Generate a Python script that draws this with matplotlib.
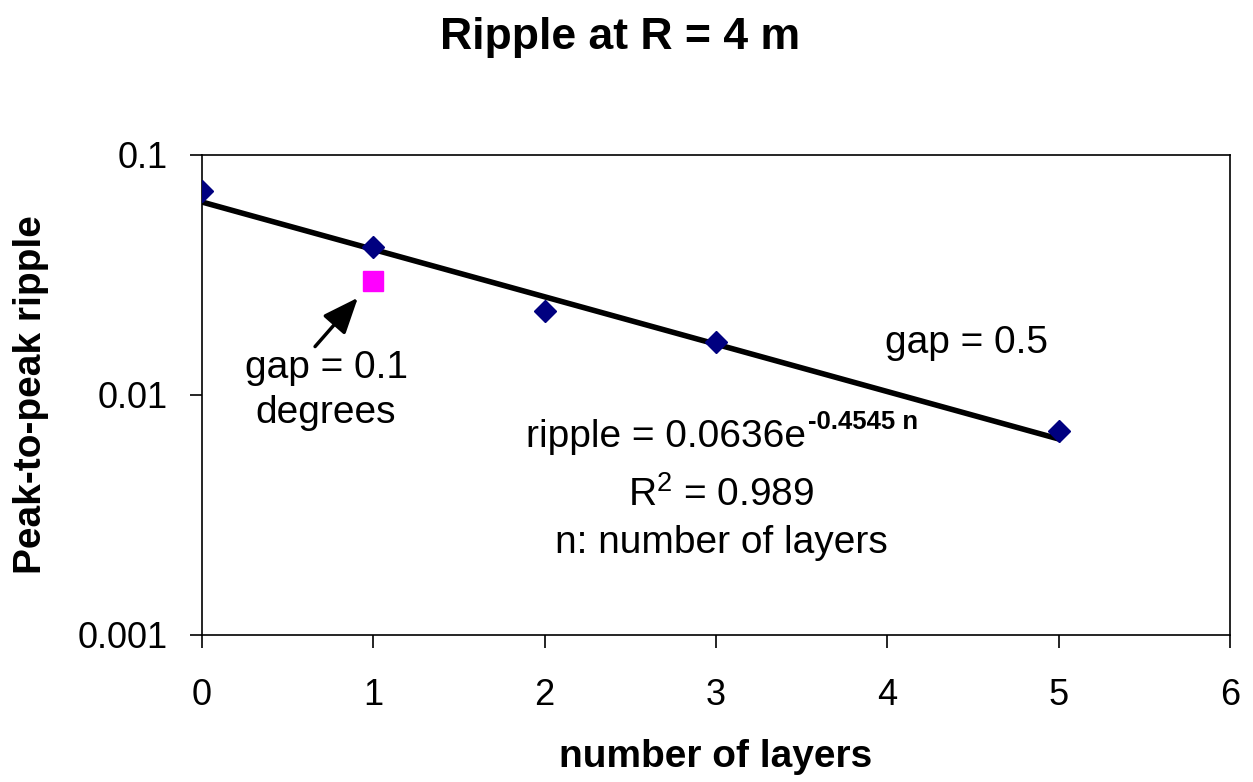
import numpy as np
import matplotlib.pyplot as plt

plt.rcParams['font.family'] = ['Liberation Sans', 'DejaVu Sans']
plt.rcParams['mathtext.fontset'] = 'custom'
plt.rcParams['mathtext.rm'] = 'Liberation Sans'
plt.rcParams['mathtext.it'] = 'Liberation Sans'
plt.rcParams['mathtext.bf'] = 'Liberation Sans:bold'

# measured peak-to-peak ripple vs number of layers (gap = 0.5)
layers = [0, 1, 2, 3, 5]
ripple = [0.0705, 0.0412, 0.0224, 0.0166, 0.0071]

# single point with gap = 0.1 degrees
layers_gap01 = [1]
ripple_gap01 = [0.0298]

# exponential trendline: ripple = a * exp(b * n)
fit_a = 0.0636
fit_b = -0.4545
fit_r2 = 0.989

fig = plt.figure(figsize=(12.53, 7.82), dpi=100)
ax = fig.add_axes([0.1612, 0.188, 0.8205, 0.614])

n_fit = np.linspace(0, 5, 100)
ax.plot(n_fit, fit_a * np.exp(fit_b * n_fit), color='black', lw=4, zorder=2)
ax.plot(layers, ripple, linestyle='none', marker='D', ms=11,
        color='#000080', zorder=3)
ax.plot(layers_gap01, ripple_gap01, linestyle='none', marker='s', ms=14,
        color='#ff00ff', zorder=3)

ax.set_yscale('log')
ax.set_xlim(0, 6)
ax.set_ylim(0.001, 0.1)
ax.set_xticks(range(7))
ax.set_yticks([0.001, 0.01, 0.1])
ax.set_yticklabels(['0.001', '0.01', '0.1'])
ax.yaxis.set_minor_locator(plt.NullLocator())
ax.tick_params(axis='both', direction='out', length=9, width=1.2,
               labelsize=26)
ax.tick_params(axis='y', pad=16)
ax.tick_params(axis='x', pad=22)
for sp in ax.spines.values():
    sp.set_linewidth(1.2)

ax.set_xlabel('number of layers', fontsize=28, fontweight='bold')
ax.xaxis.set_label_coords(0.5, -0.217)
ax.set_ylabel('Peak-to-peak ripple', fontsize=28, fontweight='bold')
ax.yaxis.set_label_coords(-0.149, 0.5)
fig.text(0.495, 0.952, 'Ripple at R = 4 m', fontsize=32, fontweight='bold',
         ha='center', va='center')

# arrow pointing at the gap = 0.1 point
ax.annotate('', xy=(0.91, 0.0254), xytext=(0.66, 0.0159),
            arrowprops=dict(arrowstyle='-|>,head_length=1.1,head_width=0.45',
                            mutation_scale=20, color='black', lw=2.5,
                            shrinkA=0, shrinkB=0))
ax.text(0.724, 0.01296, 'gap = 0.1', ha='center', va='center', fontsize=28)
ax.text(0.724, 0.00841, 'degrees', ha='center', va='center', fontsize=28)
ax.text(4.46, 0.01648, 'gap = 0.5', ha='center', va='center', fontsize=28)

# trendline equation
eq = ax.text(2.71, 0.00668, 'ripple = %.4fe' % fit_a, ha='center',
             va='center', fontsize=28)
ax.annotate('%.4f n' % fit_b, xy=(1, 0), xycoords=eq,
            xytext=(1, 19), textcoords='offset points',
            ha='left', va='baseline', fontsize=18.5, fontweight='bold')
ax.text(3.03, 0.00383, r'R$^{2}$ = %.3f' % fit_r2, ha='center', va='center',
        fontsize=28)
ax.text(3.03, 0.00242, 'n: number of layers', ha='center', va='center',
        fontsize=28)

fig.savefig('out.png', dpi=100)
